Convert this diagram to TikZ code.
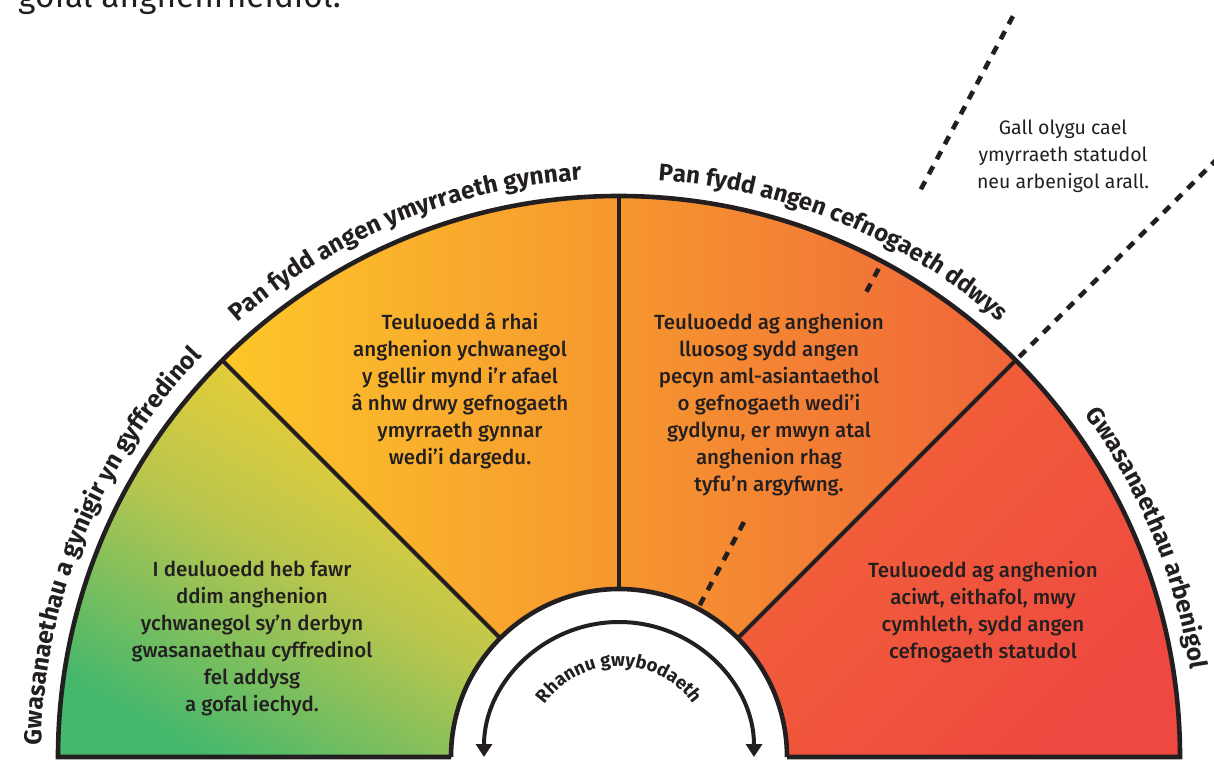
\documentclass[tikz,border=0pt]{standalone}
\usepackage{fontspec}
\setmainfont{Fira Sans}
\newfontfamily\fmed{Fira Sans Medium}
\usetikzlibrary{decorations.text,arrows.meta}
\definecolor{dark}{HTML}{231F20}
\definecolor{sgreen}{HTML}{46B86C}
\definecolor{syg}{HTML}{B8C64E}
\definecolor{syellow}{HTML}{F8CF30}
\definecolor{syellowb}{HTML}{FDC729}
\definecolor{sorange}{HTML}{F6972F}
\definecolor{sorred}{HTML}{F0643A}
\definecolor{sredt}{HTML}{F26538}
\definecolor{sred}{HTML}{EE4840}
\begin{document}
\begin{tikzpicture}[x=1pt,y=1pt,
  outl/.style={line width=4.6pt, draw=dark, line join=miter},
  divl/.style={line width=4pt, draw=dark},
  dashl/.style={line width=4.6pt, draw=dark, dash pattern=on 9pt off 8pt},
  body/.style={align=center, inner sep=0pt, text=dark, font=\fmed\fontsize{20.5}{27}\selectfont},
  note/.style={align=center, inner sep=0pt, text=dark, font=\fontsize{19.5}{27}\selectfont},
  arclabel/.style={decorate, decoration={text along path, text align=center, text color=dark}}]
\useasboundingbox (0,0) rectangle (1214,760);
\node[anchor=base west, inner sep=0pt, font=\fontsize{33.4}{36}\selectfont, text=dark] (top) at (18,752) {gofal anghenrheidiol.};
\begin{scope}[shift={(619,3)}]
  % sectors
  \path[top color=syellow, bottom color=sgreen, middle color=syg, shading angle=-30]
    (180:168) -- (180:561) arc[start angle=180,end angle=135,radius=561] -- (135:168) arc[start angle=135,end angle=180,radius=168] -- cycle;
  \path[left color=syellowb, right color=sorange]
    (135:168) -- (135:561) arc[start angle=135,end angle=90,radius=561] -- (90:168) arc[start angle=90,end angle=135,radius=168] -- cycle;
  \path[left color=sorange, right color=sorred]
    (90:168) -- (90:561) arc[start angle=90,end angle=45,radius=561] -- (45:168) arc[start angle=45,end angle=90,radius=168] -- cycle;
  \path[top color=sredt, bottom color=sred, shading angle=45]
    (45:168) -- (45:561) arc[start angle=45,end angle=0,radius=561] -- (0:168) arc[start angle=0,end angle=45,radius=168] -- cycle;
  % dashed radial lines
  \draw[dashl] (62:172) -- (62:272);
  \draw[dashl] (62:527) -- (62:559);
  \draw[dashl] (62:643) -- (62:841);
  \draw[dashl] (45:566) -- (45:850);
  % dividers
  \draw[divl] (135:168) -- (135:561);
  \draw[divl] (90:168) -- (90:561);
  \draw[divl] (45:168) -- (45:561);
  % inner white semicircle
  \draw[outl, fill=white] (180:168) arc[start angle=180,end angle=0,radius=168];
  % outline
  \draw[outl] (180:168) -- (180:561) arc[start angle=180,end angle=0,radius=561] -- (0:168);
  % inner arrow
  \draw[line width=4pt, draw=dark, {Triangle[width=16pt,length=13pt]}-{Triangle[width=16pt,length=13pt]}]
    (180:135) arc[start angle=180,end angle=0,radius=135];
  \path[arclabel, decoration={text={|\bfseries\fontsize{18.5}{20}\selectfont|Rhannu gwybodaeth}}]
    (180:91) arc[start angle=180,end angle=0,radius=91];
  % outer labels
  \path[arclabel, decoration={text={|\bfseries\fontsize{24.5}{26}\selectfont|Gwasanaethau a gynigir yn gyffredinol}}]
    (192.5:578) arc[start angle=192.5,end angle=122.5,radius=578];
  \path[arclabel, decoration={text={|\bfseries\fontsize{24.5}{26}\selectfont|Pan fydd angen ymyrraeth gynnar}}]
    (147.5:578) arc[start angle=147.5,end angle=77.5,radius=578];
  \path[arclabel, decoration={text={|\bfseries\fontsize{24}{26}\selectfont|Pan fydd angen cefnogaeth ddwys}}]
    (102.5:578) arc[start angle=102.5,end angle=32.5,radius=578];
  \path[arclabel, decoration={text={|\bfseries\fontsize{24.5}{26}\selectfont|Gwasanaethau arbenigol}}]
    (57.5:578) arc[start angle=57.5,end angle=-12.5,radius=578];
\end{scope}
% body texts
\node[body] (t1) at (252,122) {I deuluoedd heb fawr\\ddim anghenion\\ychwanegol sy’n derbyn\\gwasanaethau cyffredinol\\fel addysg\\a gofal iechyd.};
\node[body] (t2) at (460,369) {Teuluoedd â rhai\\anghenion ychwanegol\\y gellir mynd i’r afael\\â nhw drwy gefnogaeth\\ymyrraeth gynnar\\wedi’i dargedu.};
\node[body] (t3) at (769,355) {Teuluoedd ag anghenion\\lluosog sydd angen\\pecyn aml-asiantaethol\\o gefnogaeth wedi’i\\gydlynu, er mwyn atal\\anghenion rhag\\tyfu’n argyfwng.};
\node[body] (t4) at (983,148) {Teuluoedd ag anghenion\\aciwt, eithafol, mwy\\cymhleth, sydd angen\\cefnogaeth statudol};
\node[note] (n1) at (1063,604) {Gall olygu cael\\ymyrraeth statudol\\neu arbenigol arall.};
\end{tikzpicture}
\end{document}
